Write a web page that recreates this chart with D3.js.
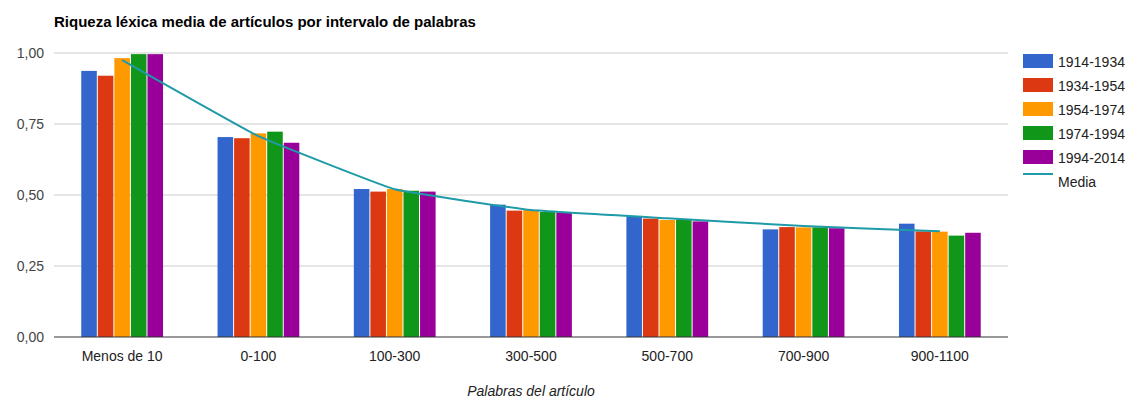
<!DOCTYPE html>
<html>
<head>
<meta charset="utf-8">
<script src="https://cdn.jsdelivr.net/npm/d3@7"></script>
<style>
  html, body { margin: 0; padding: 0; background: #fff; }
  svg { display: block; font-family: "Liberation Sans", Arial, sans-serif; }
</style>
</head>
<body>
<svg id="chart" width="1131" height="400"></svg>
<script>
// Word-count intervals
const categories = ["Menos de 10", "0-100", "100-300", "300-500", "500-700", "700-900", "900-1100"];
// Periods
const periods = ["1914-1934", "1934-1954", "1954-1974", "1974-1994", "1994-2014"];
// Average lexical richness per period, one value per interval
const s1914 = [0.937, 0.704, 0.521, 0.466, 0.424, 0.379, 0.399];
const s1934 = [0.920, 0.700, 0.512, 0.445, 0.417, 0.387, 0.372];
const s1954 = [0.982, 0.717, 0.521, 0.447, 0.412, 0.386, 0.371];
const s1974 = [0.996, 0.723, 0.515, 0.440, 0.414, 0.386, 0.357];
const s1994 = [0.996, 0.684, 0.512, 0.438, 0.407, 0.383, 0.367];
// Overall mean line
const media = [0.975, 0.707, 0.520, 0.447, 0.418, 0.391, 0.372];
const yTicks = [0, 0.25, 0.5, 0.75, 1.0];
const colors = ["#3366cc", "#dc3912", "#ff9900", "#109618", "#990099"];
const mediaColor = "#1f9ba8";

const seriesValues = [s1914, s1934, s1954, s1974, s1994];

const svg = d3.select("#chart");
const margin = { left: 54, right: 1008, top: 53, bottom: 337 };

const x0 = d3.scaleBand().domain(categories).range([margin.left, margin.right]).padding(0);
const groupW = x0.bandwidth() * 0.6;
const x1 = d3.scaleBand().domain(periods).range([0, groupW]).paddingInner(0.06);
const y = d3.scaleLinear().domain([0, 1]).range([margin.bottom, margin.top]);

const fmt = v => d3.format(".2f")(v).replace(".", ",");

// Title
svg.append("text")
  .attr("x", 54).attr("y", 27)
  .attr("font-size", 15).attr("font-weight", "bold").attr("fill", "#000")
  .text("Riqueza léxica media de artículos por intervalo de palabras");

// Gridlines and y labels
const yAxis = svg.append("g");
yAxis.selectAll("line").data(yTicks.filter(t => t > 0)).join("line")
  .attr("x1", margin.left).attr("x2", margin.right)
  .attr("y1", d => y(d)).attr("y2", d => y(d))
  .attr("stroke", "#cccccc").attr("stroke-width", 1);
yAxis.selectAll("text").data(yTicks).join("text")
  .attr("x", 44).attr("y", d => y(d) + 5)
  .attr("text-anchor", "end").attr("font-size", 14).attr("fill", "#444")
  .text(fmt);

// Bars
const groups = svg.append("g").selectAll("g").data(categories).join("g")
  .attr("transform", c => `translate(${x0(c) + (x0.bandwidth() - groupW) / 2},0)`);
groups.selectAll("rect")
  .data((c, i) => periods.map((p, k) => ({ p, k, v: seriesValues[k][i] })))
  .join("rect")
  .attr("x", d => x1(d.p))
  .attr("width", x1.bandwidth())
  .attr("y", d => y(d.v))
  .attr("height", d => y(0) - y(d.v))
  .attr("fill", d => colors[d.k]);

// Baseline
svg.append("line")
  .attr("x1", margin.left).attr("x2", margin.right)
  .attr("y1", y(0)).attr("y2", y(0))
  .attr("stroke", "#333").attr("stroke-width", 1);

// Mean line, lightly smoothed
const line = d3.line()
  .x((d, i) => x0(categories[i]) + x0.bandwidth() / 2)
  .y(d => y(d))
  .curve(d3.curveCardinal.tension(0.75));
svg.append("path").datum(media)
  .attr("d", line).attr("fill", "none")
  .attr("stroke", mediaColor).attr("stroke-width", 2);

// X labels
svg.append("g").selectAll("text").data(categories).join("text")
  .attr("x", c => x0(c) + x0.bandwidth() / 2).attr("y", 361)
  .attr("text-anchor", "middle").attr("font-size", 14).attr("fill", "#222")
  .text(c => c);

// X axis title
svg.append("text")
  .attr("x", (margin.left + margin.right) / 2).attr("y", 396)
  .attr("text-anchor", "middle").attr("font-size", 14)
  .attr("font-style", "italic").attr("fill", "#222")
  .text("Palabras del artículo");

// Legend
const legend = svg.append("g").attr("transform", "translate(1023,54)");
const items = periods.map((p, k) => ({ label: p, color: colors[k], type: "bar" }))
  .concat([{ label: "Media", color: mediaColor, type: "line" }]);
const li = legend.selectAll("g").data(items).join("g")
  .attr("transform", (d, i) => `translate(0,${i * 24})`);
li.filter(d => d.type === "bar").append("rect")
  .attr("width", 30).attr("height", 14).attr("fill", d => d.color);
li.filter(d => d.type === "line").append("line")
  .attr("x1", 0).attr("x2", 30).attr("y1", 0).attr("y2", 0)
  .attr("stroke", d => d.color).attr("stroke-width", 2);
li.append("text")
  .attr("x", 35).attr("y", 12.5).attr("font-size", 14).attr("fill", "#222")
  .text(d => d.label);
</script>
</body>
</html>
